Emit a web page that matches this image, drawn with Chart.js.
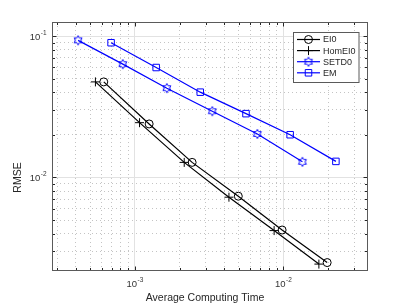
<!DOCTYPE html>
<html>
<head>
<meta charset="utf-8">
<script src="https://cdn.jsdelivr.net/npm/chart.js@4.4.1/dist/chart.umd.min.js"></script>
<style>
html, body { margin: 0; padding: 0; background: #fff; }
#wrap { width: 407px; height: 305px; }
</style>
</head>
<body>
<div id="wrap"><canvas id="rmseChart" width="407" height="305"></canvas></div>
<script>
/*--------------------------------------------------------------------
Data (log-log)
--------------------------------------------------------------------*/
const timeEI0    = [6.18e-4, 1.248e-3, 2.43e-3, 4.97e-3, 9.8e-3, 1.97e-2];
const rmseEI0    = [0.0474, 0.0239, 0.01278, 0.00737, 0.00425, 0.0025];
const timeHomEI0 = [5.43e-4, 1.076e-3, 2.15e-3, 4.30e-3, 8.66e-3, 1.733e-2];
const rmseHomEI0 = [0.0474, 0.0244, 0.01278, 0.00725, 0.00421, 0.00244];
const timeSETD0  = [4.15e-4, 8.30e-4, 1.643e-3, 3.32e-3, 6.68e-3, 1.343e-2];
const rmseSETD0  = [0.0932, 0.0633, 0.0428, 0.0294, 0.0203, 0.0129];
const timeEM     = [6.92e-4, 1.392e-3, 2.756e-3, 5.60e-3, 1.11e-2, 2.256e-2];
const rmseEM     = [0.0897, 0.0599, 0.0401, 0.02826, 0.02005, 0.01299];

const seriesNames = ["EI0", "HomEI0", "SETD0", "EM"];

// axis limits and ticks
const xMin = 2.77e-4, xMax = 0.0371;
const yMin = 0.00218, yMax = 0.1257;
const xTicks = [3e-4, 4e-4, 5e-4, 6e-4, 7e-4, 8e-4, 9e-4,
                1e-3, 2e-3, 3e-3, 4e-3, 5e-3, 6e-3, 7e-3, 8e-3, 9e-3,
                1e-2, 2e-2, 3e-2];
const yTicks = [3e-3, 4e-3, 5e-3, 6e-3, 7e-3, 8e-3, 9e-3,
                1e-2, 2e-2, 3e-2, 4e-2, 5e-2, 6e-2, 7e-2, 8e-2, 9e-2,
                1e-1];
const xMajor = [1e-3, 1e-2];
const yMajor = [1e-2, 1e-1];
const xMajorLabels = ["-3", "-2"];
const yMajorLabels = ["-2", "-1"];

const BLUE = "#0000ff";
const INK = "#262626";
const FONT = "'Liberation Sans', Arial, sans-serif";

function pts(xs, ys) {
    return xs.map((x, i) => ({x: x, y: ys[i]}));
}

function isMajor(v, list) {
    return list.some(m => Math.abs(v - m) / m < 1e-6);
}

// hexagram marker as an image
function makeHexagram(color) {
    const c = document.createElement("canvas");
    c.width = 12; c.height = 12;
    const g = c.getContext("2d");
    const R = 4.6, r = R / Math.sqrt(3);
    g.beginPath();
    for (let k = 0; k < 12; k++) {
        const a = -Math.PI / 2 + k * Math.PI / 6;
        const rr = k % 2 === 0 ? R : r;
        const px = 6 + rr * Math.cos(a), py = 6 + rr * Math.sin(a);
        if (k === 0) g.moveTo(px, py); else g.lineTo(px, py);
    }
    g.closePath();
    g.strokeStyle = color;
    g.lineWidth = 1;
    g.stroke();
    return c;
}
const hexagram = makeHexagram(BLUE);

function baseSet(label, data, color, style, radius) {
    return {
        label: label,
        data: data,
        showLine: true,
        borderColor: color,
        backgroundColor: "rgba(0,0,0,0)",
        borderWidth: 1.2,
        pointStyle: style,
        pointRadius: radius,
        pointHoverRadius: radius,
        pointBorderColor: color,
        pointBackgroundColor: "rgba(0,0,0,0)",
        pointBorderWidth: 1,
        tension: 0
    };
}

const datasets = [
    baseSet(seriesNames[0], pts(timeEI0, rmseEI0), "#000", "circle", 4),
    baseSet(seriesNames[1], pts(timeHomEI0, rmseHomEI0), "#000", "cross", 4.5),
    baseSet(seriesNames[2], pts(timeSETD0, rmseSETD0), BLUE, hexagram, 5),
    baseSet(seriesNames[3], pts(timeEM, rmseEM), BLUE, "rect", 4.6)
];

/*--------------------------------------------------------------------
Matlab-style frame, ticks, labels and legend
--------------------------------------------------------------------*/
function drawPow(ctx, exp, x, y, align) {
    ctx.font = "9.5px " + FONT;
    const wb = ctx.measureText("10").width;
    ctx.font = "6.5px " + FONT;
    const we = ctx.measureText(exp).width;
    const total = wb + we + 0.5;
    let left = align === "center" ? x - total / 2 : x - total;
    ctx.fillStyle = "#333";
    ctx.textBaseline = "middle";
    ctx.textAlign = "left";
    ctx.font = "9.5px " + FONT;
    ctx.fillText("10", left, y);
    ctx.font = "6.5px " + FONT;
    ctx.fillText(exp, left + wb + 0.5, y - 4);
}

const matlabAxes = {
    id: "matlabAxes",
    afterDraw(chart) {
        const ctx = chart.ctx;
        const a = chart.chartArea;
        const xs = chart.scales.x, ys = chart.scales.y;
        const L = a.left + 0.5, R = a.right - 0.5, T = a.top + 0.5, B = a.bottom - 0.5;
        ctx.save();

        // inward tick marks, all four sides
        ctx.strokeStyle = INK;
        ctx.lineWidth = 1;
        ctx.beginPath();
        xTicks.forEach(v => {
            const px = Math.round(xs.getPixelForValue(v)) + 0.5;
            const len = isMajor(v, xMajor) ? 4 : 2.5;
            ctx.moveTo(px, B); ctx.lineTo(px, B - len);
            ctx.moveTo(px, T); ctx.lineTo(px, T + len);
        });
        yTicks.forEach(v => {
            const py = Math.round(ys.getPixelForValue(v)) + 0.5;
            const len = isMajor(v, yMajor) ? 4 : 2.5;
            ctx.moveTo(L, py); ctx.lineTo(L + len, py);
            ctx.moveTo(R, py); ctx.lineTo(R - len, py);
        });
        ctx.stroke();

        // box
        ctx.strokeStyle = "#5a5a5a";
        ctx.strokeRect(L, T, R - L, B - T);

        // tick labels
        xMajor.forEach((v, i) => {
            drawPow(ctx, xMajorLabels[i], xs.getPixelForValue(v), 284.5, "center");
        });
        yMajor.forEach((v, i) => {
            drawPow(ctx, yMajorLabels[i], 46.5, ys.getPixelForValue(v) + 1, "right");
        });

        // axis titles
        ctx.fillStyle = INK;
        ctx.font = "10.5px " + FONT;
        ctx.textAlign = "center";
        ctx.textBaseline = "middle";
        ctx.fillText("Average Computing Time", 205, 298);
        ctx.save();
        ctx.translate(18.5, 177.5);
        ctx.rotate(-Math.PI / 2);
        ctx.fillText("RMSE", 0, 0);
        ctx.restore();

        // legend
        const bx = 293.5, by = 32.5, bw = 65.5, bh = 50;
        ctx.fillStyle = "#fff";
        ctx.fillRect(bx, by, bw, bh);
        ctx.strokeStyle = "#5a5a5a";
        ctx.lineWidth = 1;
        ctx.strokeRect(bx, by, bw, bh);
        chart.data.datasets.forEach((ds, i) => {
            const ly = 39.5 + i * 11.1;
            ctx.strokeStyle = ds.borderColor;
            ctx.lineWidth = 1.2;
            ctx.beginPath();
            ctx.moveTo(297, ly); ctx.lineTo(320, ly);
            ctx.stroke();
            ctx.fillStyle = "rgba(0,0,0,0)";
            ctx.lineWidth = 1;
            Chart.helpers.drawPoint(ctx, {
                pointStyle: ds.pointStyle,
                radius: ds.pointRadius,
                borderWidth: 1,
                rotation: 0
            }, 308.5, ly);
            ctx.fillStyle = INK;
            ctx.font = "9px " + FONT;
            ctx.textAlign = "left";
            ctx.textBaseline = "middle";
            ctx.fillText(ds.label, 323, ly + 0.5);
        });
        ctx.restore();
    }
};

/*--------------------------------------------------------------------
Chart
--------------------------------------------------------------------*/
function gridOpts(majorList) {
    return {
        drawTicks: false,
        lineWidth: 1,
        color: c => (c.tick && isMajor(c.tick.value, majorList)) ? "#e2e2e2" : "#c4c4c4"
    };
}
function borderOpts(majorList) {
    return {
        display: false,
        dash: c => (c.tick && isMajor(c.tick.value, majorList)) ? [] : [1, 3]
    };
}

const ctx = document.getElementById("rmseChart").getContext("2d");
const chart = new Chart(ctx, {
    type: "scatter",
    data: { datasets: datasets },
    options: {
        responsive: false,
        animation: false,
        layout: { padding: { left: 52, top: 22, right: 39, bottom: 34 } },
        plugins: { legend: { display: false }, tooltip: { enabled: false } },
        scales: {
            x: {
                type: "logarithmic",
                min: xMin, max: xMax,
                afterBuildTicks: s => { s.ticks = xTicks.map(v => ({value: v, major: isMajor(v, xMajor)})); },
                ticks: { display: false },
                grid: gridOpts(xMajor),
                border: borderOpts(xMajor)
            },
            y: {
                type: "logarithmic",
                min: yMin, max: yMax,
                afterBuildTicks: s => { s.ticks = yTicks.map(v => ({value: v, major: isMajor(v, yMajor)})); },
                ticks: { display: false },
                grid: gridOpts(yMajor),
                border: borderOpts(yMajor)
            }
        }
    },
    plugins: [matlabAxes]
});
</script>
</body>
</html>
